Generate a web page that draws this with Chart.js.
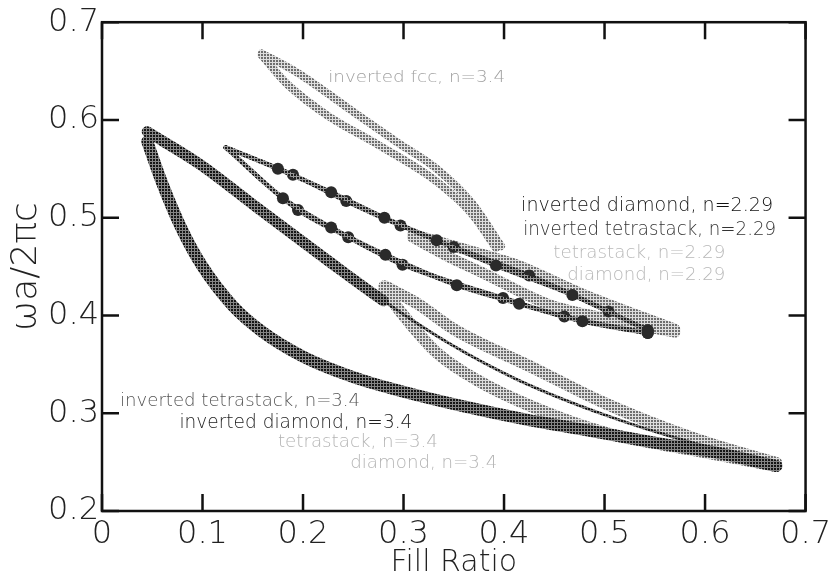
<!DOCTYPE html>
<html><head><meta charset="utf-8">
<script src="https://cdn.jsdelivr.net/npm/chart.js@4/dist/chart.umd.min.js"></script>
<style>html,body{margin:0;padding:0;background:#fff}#wrap{width:835px;height:586px}</style>
</head><body><div id="wrap"><canvas id="c" width="835" height="586"></canvas></div>
<script>
// ---- tick values ----
const xTicks = [0, 0.1, 0.2, 0.3, 0.4, 0.5, 0.6, 0.7];
const yTicks = [0.2, 0.3, 0.4, 0.5, 0.6, 0.7];

// ---- series (Fill Ratio, ωa/2πc) ----
// inverted tetrastack / inverted diamond, n=3.4 (dark)
const inv34Upper = [[0.045,0.588],[0.097,0.555],[0.156,0.509],[0.225,0.456],[0.28,0.415],[0.346,0.371],[0.412,0.335],[0.501,0.298],[0.590,0.269],[0.671,0.248]];
const inv34Lower = [[0.045,0.578],[0.060,0.535],[0.080,0.487],[0.100,0.450],[0.130,0.410],[0.160,0.383],[0.200,0.358],[0.250,0.337],[0.300,0.322],[0.360,0.307],[0.420,0.294],[0.480,0.283],[0.550,0.270],[0.610,0.260],[0.671,0.246]];
// tetrastack / diamond, n=3.4 (light)
const lt34Upper = [[0.281,0.430],[0.314,0.412],[0.350,0.386],[0.430,0.346],[0.501,0.310],[0.590,0.274],[0.671,0.249]];
const lt34Lower = [[0.281,0.426],[0.300,0.400],[0.333,0.362],[0.373,0.334],[0.432,0.305],[0.501,0.280],[0.590,0.262],[0.671,0.246]];
// inverted fcc, n=3.4 (light)
const fccUpper = [[0.159,0.668],[0.195,0.648],[0.245,0.612],[0.294,0.577],[0.333,0.550],[0.368,0.515],[0.397,0.471]];
const fccLower = [[0.159,0.666],[0.185,0.636],[0.225,0.604],[0.274,0.575],[0.333,0.537],[0.368,0.504],[0.392,0.469]];
// tetrastack / diamond, n=2.29 (light)
const lt229Upper = [[0.309,0.483],[0.380,0.462],[0.412,0.452],[0.478,0.422],[0.570,0.386]];
const lt229Lower = [[0.309,0.480],[0.345,0.460],[0.380,0.443],[0.445,0.411],[0.511,0.395],[0.570,0.383]];
// inverted diamond, n=2.29 (dark, markers)
const invDia229Upper = [[0.123,0.572],[0.175,0.550],[0.228,0.526],[0.281,0.500],[0.333,0.477],[0.392,0.451],[0.468,0.421],[0.543,0.385]];
const invDia229Lower = [[0.123,0.572],[0.180,0.520],[0.228,0.490],[0.282,0.462],[0.353,0.431],[0.415,0.412],[0.478,0.394],[0.543,0.382]];
// inverted tetrastack, n=2.29 (dark, markers)
const invTet229Upper = [[0.123,0.572],[0.190,0.544],[0.243,0.517],[0.297,0.492],[0.350,0.470],[0.425,0.441],[0.504,0.404],[0.543,0.385]];
const invTet229Lower = [[0.123,0.572],[0.195,0.508],[0.245,0.480],[0.299,0.452],[0.399,0.418],[0.460,0.399],[0.543,0.382]];

const seriesLabels = [
  {text:'inverted fcc, n=3.4',          at:[0.225,0.643], color:'#a0a0a0', size:16, w:177},
  {text:'inverted diamond, n=2.29',     at:[0.417,0.512], color:'#111',    size:19, w:252},
  {text:'inverted tetrastack, n=2.29',  at:[0.419,0.487], color:'#333',    size:19, w:253},
  {text:'tetrastack, n=2.29',           at:[0.449,0.464], color:'#b8b8b8', size:18, w:172},
  {text:'diamond, n=2.29',              at:[0.463,0.441], color:'#b8b8b8', size:18, w:158},
  {text:'inverted tetrastack, n=3.4',   at:[0.018,0.312], color:'#555',    size:18, w:240},
  {text:'inverted diamond, n=3.4',      at:[0.077,0.290], color:'#222',    size:19, w:233},
  {text:'tetrastack, n=3.4',            at:[0.175,0.270], color:'#b4b4b4', size:17, w:160},
  {text:'diamond, n=3.4',               at:[0.247,0.249], color:'#b4b4b4', size:17, w:147}
];

function halftone(dot, bg) {
  const c = document.createElement('canvas'); c.width = 3; c.height = 3;
  const g = c.getContext('2d');
  g.fillStyle = bg; g.fillRect(0,0,3,3);
  g.fillStyle = dot; g.fillRect(0,0,2,2);
  return g.createPattern(c, 'repeat');
}
const DARK = halftone('#151515', '#858585');
const MID = halftone('#1e1e1e', '#9a9a9a');
const LIGHT = halftone('#6e6e6e', '#dedede');

const pts = arr => arr.map(p => ({x:p[0], y:p[1]}));
function band(arr, color, width, order, extra) {
  return Object.assign({data: pts(arr), showLine:true, borderColor:color, borderWidth:width, pointRadius:0,
          cubicInterpolationMode:'monotone', fill:false, order, borderCapStyle:'round', borderJoinStyle:'round'}, extra || {});
}
function marked(arr) {
  return {data: pts(arr), showLine:true, borderColor:MID, borderWidth:4.5,
          pointRadius: c => c.dataIndex === 0 ? 0 : 6,
          pointBackgroundColor:'#2a2a2a', pointBorderWidth:0, cubicInterpolationMode:'monotone',
          fill:false, order:1, borderCapStyle:'round'};
}

const FONT = "'DejaVu Sans', sans-serif";

const framePlugin = {
  id:'frame',
  afterDatasetsDraw(chart) {
    const {ctx, chartArea:a, scales:{x, y}} = chart;
    ctx.save();
    ctx.strokeStyle = '#111'; ctx.lineWidth = 2.5; ctx.lineCap = 'butt';
    ctx.strokeRect(a.left, a.top, a.right - a.left, a.bottom - a.top);
    const L = 17;
    ctx.beginPath();
    xTicks.forEach(v => { const p = x.getPixelForValue(v);
      ctx.moveTo(p, a.bottom); ctx.lineTo(p, a.bottom - L);
      ctx.moveTo(p, a.top); ctx.lineTo(p, a.top + L); });
    yTicks.forEach(v => { const p = y.getPixelForValue(v);
      ctx.moveTo(a.left, p); ctx.lineTo(a.left + L, p);
      ctx.moveTo(a.right, p); ctx.lineTo(a.right - L, p); });
    ctx.stroke();
    ctx.textBaseline = 'middle'; ctx.textAlign = 'left';
    seriesLabels.forEach(l => {
      ctx.font = `200 ${l.size}px ${FONT}`;
      ctx.fillStyle = l.color;
      const m = ctx.measureText(l.text).width;
      ctx.save();
      ctx.translate(x.getPixelForValue(l.at[0]), y.getPixelForValue(l.at[1]));
      ctx.scale(l.w / m, 1);
      ctx.fillText(l.text, 0, 0);
      ctx.restore();
    });
    ctx.restore();
  }
};

new Chart(document.getElementById('c'), {
  type:'scatter',
  data:{datasets:[
    band(fccUpper, LIGHT, 8, 3), band(fccLower, LIGHT, 8, 3),
    band(lt34Upper, LIGHT, 12, 2), band(lt34Lower, LIGHT, 12, 2),
    band(lt229Upper, LIGHT, 11, 2), band(lt229Lower, LIGHT, 11, 2),
    band(inv34Upper, DARK, 11, 1, {segment:{borderWidth: c => c.p0.parsed.x >= 0.279 ? 3 : 11}}),
    band(inv34Lower, DARK, 12, 1),
    marked(invDia229Upper), marked(invDia229Lower),
    marked(invTet229Upper), marked(invTet229Lower)
  ]},
  options:{
    responsive:false, devicePixelRatio:1, animation:false,
    layout:{padding:{top:16, right:23, left:0, bottom:0}},
    plugins:{legend:{display:false}, tooltip:{enabled:false}},
    scales:{
      x:{type:'linear', min:0, max:0.7,
         afterBuildTicks:s => { s.ticks = xTicks.map(v => ({value:v})); },
         afterFit:s => { s.height = 75; },
         grid:{display:false, drawTicks:false}, border:{display:false},
         ticks:{font:{family:FONT, size:32, weight:'200'}, color:'#222', padding:4,
                callback:v => String(+v.toFixed(1))},
         title:{display:true, text:'Fill Ratio', color:'#222', font:{family:FONT, size:30, weight:'200'}, padding:{top:0,bottom:5}}},
      y:{type:'linear', min:0.2, max:0.7,
         afterBuildTicks:s => { s.ticks = yTicks.map(v => ({value:v})); },
         afterFit:s => { s.width = 102; },
         grid:{display:false, drawTicks:false}, border:{display:false},
         ticks:{font:{family:FONT, size:32, weight:'200'}, color:'#222', padding:3,
                callback:v => v.toFixed(1)},
         title:{display:true, text:'ωa/2πc', color:'#222', font:{family:FONT, size:36, weight:'200'}, padding:{top:5,bottom:0}}}
    }
  },
  plugins:[framePlugin]
});
</script></body></html>
